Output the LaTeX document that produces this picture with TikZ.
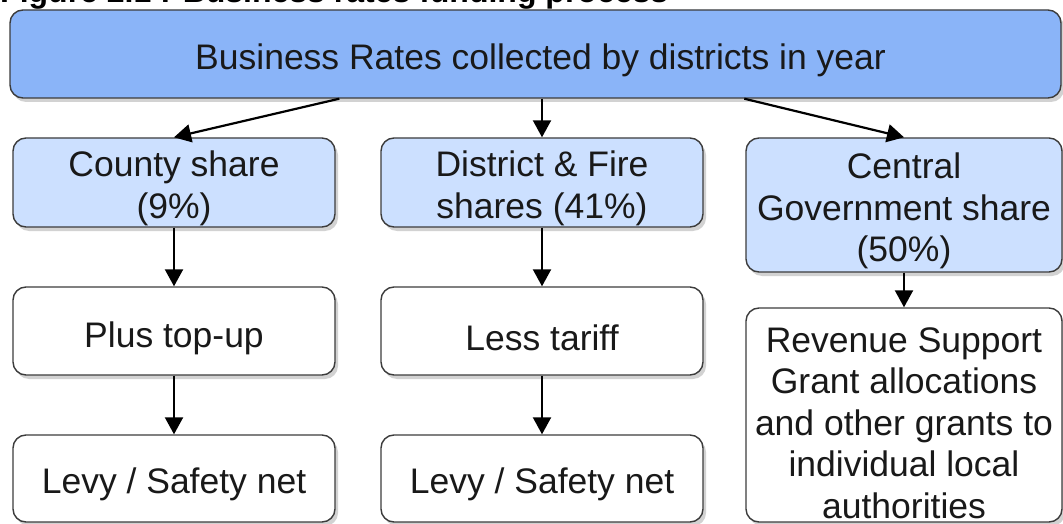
\documentclass[tikz,border=0pt]{standalone}
\usepackage{fontspec}
\setmainfont{Liberation Sans}
\usetikzlibrary{arrows.meta,shadows}
\definecolor{topblue}{RGB}{138,180,248}
\definecolor{lightblue}{RGB}{204,224,255}
\definecolor{edgegray}{RGB}{60,60,60}
\definecolor{txt}{RGB}{25,25,25}
\tikzset{
  box/.style={draw=edgegray, line width=1.4pt, rounded corners=13pt,
    inner sep=0pt,
    drop shadow={shadow xshift=3pt, shadow yshift=-4pt, opacity=0.35, fill=gray}},
  topbox/.style={box, fill=topblue},
  sharebox/.style={box, fill=lightblue},
  plainbox/.style={box, fill=white},
  label/.style={align=center, inner sep=0pt, text=txt, font=\fontsize{35.5}{41.5}\selectfont, yshift=-6pt},
  arr/.style={line width=2.2pt, draw=black, -{Triangle[length=17pt,width=18pt]}}
}
\begin{document}
\begin{tikzpicture}[x=1pt,y=-1pt]
\useasboundingbox (0,0) rectangle (1063,524);
\clip (0,0) rectangle (1063,524);
\fill[white] (0,0) rectangle (1063,524);
\node[anchor=base west, inner sep=0pt, font=\fontsize{32}{36}\selectfont\bfseries] (title) at (0,3) {Figure 2.1 : Business rates funding process};
\node[topbox, minimum width=1051pt, minimum height=88pt] (top) at (535.5,54) {};
\node[sharebox, minimum width=322pt, minimum height=89pt] (county) at (174,182.5) {};
\node[sharebox, minimum width=322pt, minimum height=89pt] (district) at (542,182.5) {};
\node[sharebox, minimum width=316pt, minimum height=134pt] (central) at (904,205) {};
\node[plainbox, minimum width=322pt, minimum height=88pt] (plus) at (174,331) {};
\node[plainbox, minimum width=322pt, minimum height=88pt] (less) at (542,331) {};
\node[plainbox, minimum width=316pt, minimum height=214pt] (rsg) at (904,415) {};
\node[plainbox, minimum width=322pt, minimum height=87pt] (levy1) at (174,478.5) {};
\node[plainbox, minimum width=322pt, minimum height=87pt] (levy2) at (542,478.5) {};
\node[label] (top-t) at ([xshift=5pt]top.center) {Business Rates collected by districts in year};
\node[label] (county-t) at (county.center) {County share\\(9\%)};
\node[label] (district-t) at (district.center) {District \& Fire\\shares (41\%)};
\node[label] (central-t) at (central.center) {Central\\Government share\\(50\%)};
\node[label, yshift=-1pt] (plus-t) at (plus.center) {Plus top-up};
\node[label, yshift=-1pt] (less-t) at (less.center) {Less tariff};
\node[label, yshift=-2pt] (rsg-t) at (rsg.center) {Revenue Support\\Grant allocations\\and other grants to\\individual local\\authorities};
\node[label] (levy1-t) at (levy1.center) {Levy / Safety net};
\node[label] (levy2-t) at (levy2.center) {Levy / Safety net};
\draw[arr] ([xshift=330pt]top.south west) -- (county.north);
\draw[arr] (top.south -| district.north) -- (district.north);
\draw[arr] ([xshift=735pt]top.south west) -- (central.north);
\draw[arr] (county) -- (plus);
\draw[arr] (district) -- (less);
\draw[arr] (central) -- (rsg);
\draw[arr] (plus) -- (levy1);
\draw[arr] (less) -- (levy2);
\end{tikzpicture}
\end{document}
